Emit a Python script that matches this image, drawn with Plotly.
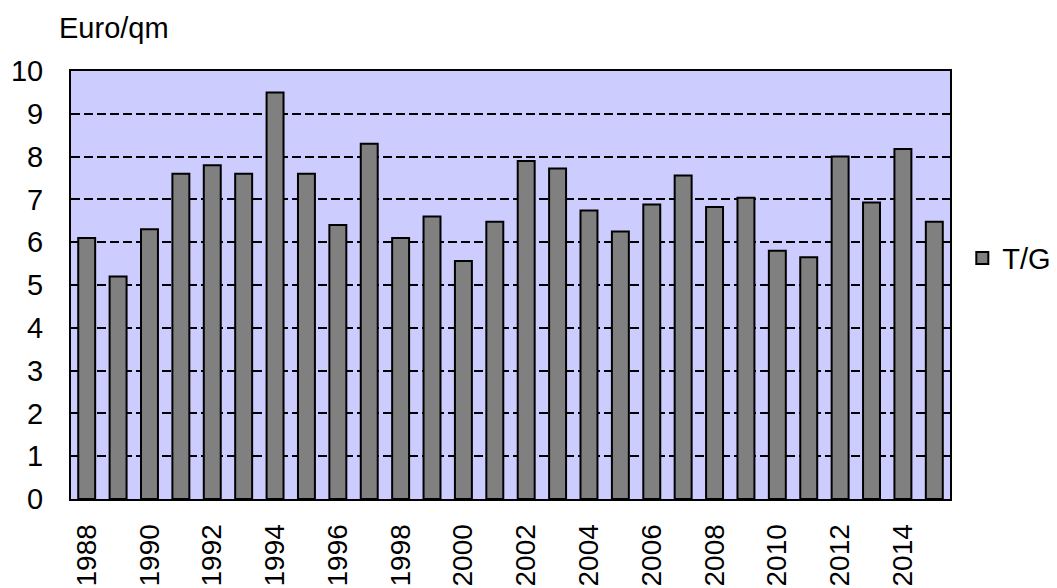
import plotly.graph_objects as go

years = list(range(1988, 2016))
values = [6.1, 5.2, 6.3, 7.6, 7.8, 7.6, 9.5, 7.6, 6.4, 8.3, 6.1, 6.6, 5.56, 6.48,
          7.9, 7.72, 6.74, 6.25, 6.88, 7.56, 6.82, 7.04, 5.8, 5.65, 8.0, 6.93, 8.18, 6.48]
tick_years = list(range(1988, 2016, 2))
y_ticks = list(range(0, 11))
series_name = "T/G"
unit_label = "Euro/qm"

FONT = "Liberation Sans, Arial, sans-serif"

fig = go.Figure()
fig.add_trace(go.Bar(
    x=years, y=values, name=series_name,
    marker=dict(color="#808080", line=dict(color="black", width=2)),
    showlegend=True,
))

# page body has an 8px default margin, so the figure is 8px smaller
fig.update_layout(
    width=1049, height=580,
    margin=dict(l=63, r=107, t=63, b=89, autoexpand=False),
    paper_bgcolor="white",
    plot_bgcolor="#CCCCFF",
    bargap=0.46,
    font=dict(family=FONT, size=29, color="black"),
    showlegend=True,
    legend=dict(x=1.014, y=0.563, xanchor="left", yanchor="middle",
                font=dict(size=29), bgcolor="rgba(0,0,0,0)",
                itemwidth=30),
    xaxis=dict(
        range=[1987.5, 2015.5], automargin=False,
        tickmode="array", tickvals=tick_years, ticktext=[str(y) for y in tick_years],
        tickangle=-90, showgrid=False, zeroline=False,
        showline=True, linecolor="black", linewidth=2, mirror=True,
        ticks="", ticklabelstandoff=12,
        tickfont=dict(size=28),
    ),
    yaxis=dict(
        range=[0, 10], tickmode="array", tickvals=y_ticks, automargin=False,
        showgrid=True, gridcolor="black", gridwidth=2, griddash="9px,4px",
        zeroline=False,
        showline=True, linecolor="black", linewidth=2, mirror=True,
        ticks="", ticklabelstandoff=20,
        tickfont=dict(size=29),
    ),
    annotations=[dict(
        text=unit_label, xref="paper", yref="paper",
        x=-0.016, y=1.0, xanchor="left", yanchor="bottom", yshift=25,
        showarrow=False, font=dict(size=29),
    )],
)

fig.write_html("out.html")
